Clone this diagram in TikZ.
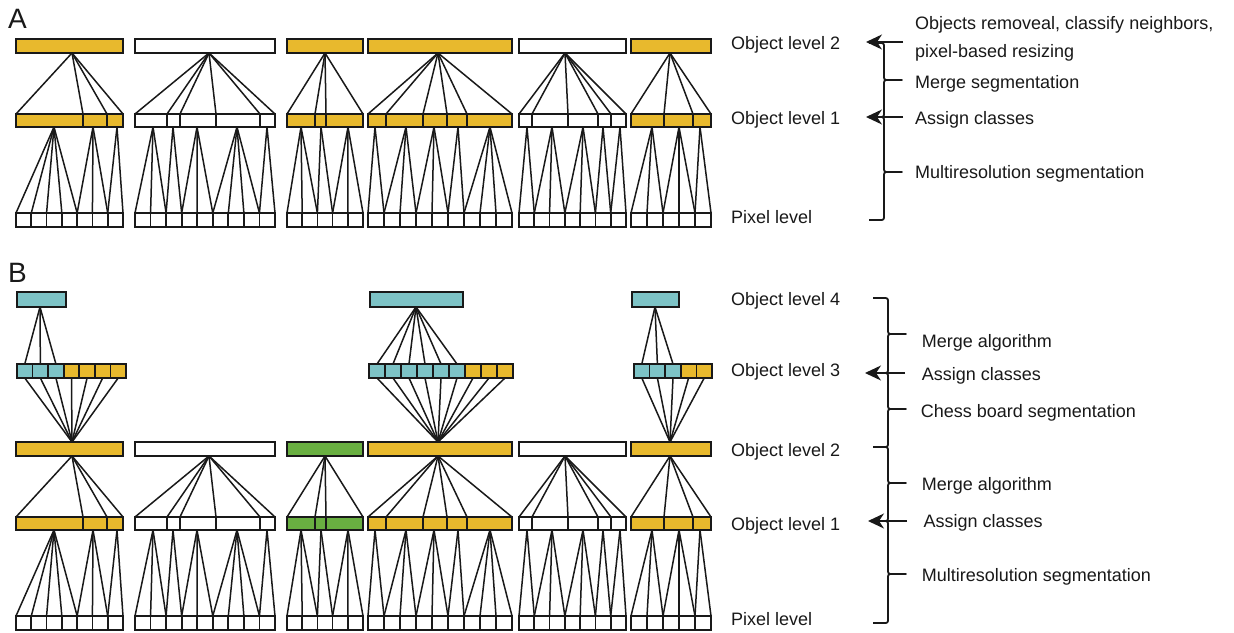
\documentclass[tikz,border=0pt]{standalone}
\usepackage{fontspec}
\setmainfont{Liberation Sans}
\usetikzlibrary{arrows.meta}
\definecolor{gold}{RGB}{232,185,45}
\definecolor{teal2}{RGB}{125,195,198}
\definecolor{grn}{RGB}{105,175,65}
\definecolor{ink}{RGB}{25,25,25}
\tikzset{
 box/.style={draw=ink, line width=1.7pt},
 link/.style={draw=ink, line width=1.5pt},
 lbl/.style={anchor=base west, inner sep=0pt, font=\fontsize{18}{22}\selectfont, text=ink},
 panel/.style={anchor=base west, inner sep=0pt, font=\fontsize{28}{30}\selectfont, text=ink},
 arr/.style={draw=ink, line width=1.8pt, -{Stealth[length=16pt,width=15pt,inset=5pt]}},
 brc/.style={draw=ink, line width=1.8pt, line join=round},
}
% lower tree: #1 y offset, #2 xL, #3 xR, #4 colour, #5 apex x, #6 level-1 bounds, #7 pixels, #8 apex/from/to
\newcommand{\lowertree}[8]{%
 \pgfmathsetmacro{\pw}{(#3-#2)/#7}%
 \foreach \bd in {#6} \draw[link] (#5,{53+#1}) -- (\bd,{114+#1});
 \foreach \ax/\pb/\pc in {#8} {\foreach \kk in {\pb,...,\pc} \draw[link] (\ax,{127+#1}) -- ({#2+\kk*\pw},{213+#1});}
 \draw[box,fill=#4] (#2,{39+#1}) rectangle (#3,{53+#1});
 \draw[box,fill=#4] (#2,{114+#1}) rectangle (#3,{127+#1});
 \foreach \bd in {#6} \draw[box] (\bd,{114+#1}) -- (\bd,{127+#1});
 \foreach \kk in {1,...,#7} \draw[box,fill=white] ({#2+(\kk-1)*\pw},{213+#1}) rectangle ({#2+\kk*\pw},{227+#1});
}
% upper tree: #1 L4 xL, #2 L4 xR, #3 apex, #4 L3 xL, #5 L3 xR, #6 teal count, #7 total, #8 converge x
\newcommand{\uppertree}[8]{%
 \pgfmathsetmacro{\qw}{(#5-#4)/#7}%
 \foreach \kk in {1,...,#6} \draw[link] (#3,307) -- ({#4+(\kk-0.5)*\qw},364);
 \foreach \kk in {1,...,#7} \draw[link] ({#4+(\kk-0.5)*\qw},378) -- (#8,442);
 \draw[box,fill=teal2] (#1,292) rectangle (#2,307);
 \foreach \kk in {1,...,#7} {\ifnum\kk>#6\relax\def\fc{gold}\else\def\fc{teal2}\fi
   \draw[box,fill=\fc] ({#4+(\kk-1)*\qw},364) rectangle ({#4+\kk*\qw},378);}
}
\newcommand{\brc}[4]{%
 \draw[brc] ({#1-15},#2) -- ({#1-5},#2) .. controls (#1,#2) .. (#1,{#2+5}) -- (#1,{#3-5}) .. controls (#1,#3) .. ({#1+5},#3) -- ({#1+18},#3) -- ({#1+5},#3) .. controls (#1,#3) .. (#1,{#3+5}) -- (#1,{#4-5}) .. controls (#1,#4) .. ({#1-5},#4) -- ({#1-15},#4);
}
\begin{document}
\begin{tikzpicture}[x=1pt,y=-1pt]
\useasboundingbox[fill=white] (0,0) rectangle (1234,632);
% ---------- Panel A ----------
\node[panel] (pA) at (8,28) {A};
\lowertree{0}{16}{123}{gold}{72}{16,83,107,123}{7}{54/0/4,93/4/6,117/6/7}
\lowertree{0}{135}{275}{white}{209}{135,167,180,216,260,275}{9}{153/0/2,173/2/3,197/3/5,237/5/8,267/8/9}
\lowertree{0}{287}{363}{gold}{325}{287,315,326,363}{5}{301/0/2,321/2/3,348/3/5}
\lowertree{0}{368}{512}{gold}{438}{368,386,423,447,467,512}{9}{375/0/1,406/1/3,434/3/5,458/5/6,490/6/9}
\lowertree{0}{519}{626}{white}{565}{519,532,568,598,611,626}{7}{527/0/1,552/1/3,583/3/5,603/5/6,620/6/7}
\lowertree{0}{631}{711}{gold}{670}{631,664,693,711}{5}{652/0/2,679/2/4,700/4/5}
\node[lbl] (a2) at (731,49.5) {Object level 2};
\node[lbl] (a1) at (731,124.5) {Object level 1};
\node[lbl] (ap) at (731,223) {Pixel level};
\node[lbl] (aobj1) at (915,29.5) {Objects removeal, classify neighbors,};
\node[lbl] (aobj2) at (915,57) {pixel-based resizing};
\node[lbl] (ams) at (915,88.3) {Merge segmentation};
\node[lbl] (aac) at (915,124) {Assign classes};
\node[lbl] (amr) at (915,178.3) {Multiresolution segmentation};
\coordinate (aA2s) at (903,42); \coordinate (aA2e) at (866,42);
\coordinate (aA1s) at (903,117); \coordinate (aA1e) at (866,117);
\brc{884}{43}{80}{117}
\brc{884}{117}{172}{220}
\draw[arr] (aA2s) -- (aA2e);
\draw[arr] (aA1s) -- (aA1e);
% ---------- Panel B ----------
\node[panel] (pB) at (8,282) {B};
\uppertree{17}{66}{40}{17}{126}{3}{7}{72}
\uppertree{370}{463}{416}{369}{513}{6}{9}{438}
\uppertree{632}{679}{655}{634}{712}{3}{5}{670}
\lowertree{403}{16}{123}{gold}{72}{16,83,107,123}{7}{54/0/4,93/4/6,117/6/7}
\lowertree{403}{135}{275}{white}{209}{135,167,180,216,260,275}{9}{153/0/2,173/2/3,197/3/5,237/5/8,267/8/9}
\lowertree{403}{287}{363}{grn}{325}{287,315,326,363}{5}{301/0/2,321/2/3,348/3/5}
\lowertree{403}{368}{512}{gold}{438}{368,386,423,447,467,512}{9}{375/0/1,406/1/3,434/3/5,458/5/6,490/6/9}
\lowertree{403}{519}{626}{white}{565}{519,532,568,598,611,626}{7}{527/0/1,552/1/3,583/3/5,603/5/6,620/6/7}
\lowertree{403}{631}{711}{gold}{670}{631,664,693,711}{5}{652/0/2,679/2/4,700/4/5}
\node[lbl] (b4) at (731,305.7) {Object level 4};
\node[lbl] (b3) at (731,376.7) {Object level 3};
\node[lbl] (b2) at (731,456.7) {Object level 2};
\node[lbl] (b1) at (731,530.7) {Object level 1};
\node[lbl] (bp) at (731,625) {Pixel level};
\node[lbl] (bm1) at (921.7,347.7) {Merge algorithm};
\node[lbl] (bac1) at (921.7,380) {Assign classes};
\node[lbl] (bcb) at (920.7,417.3) {Chess board segmentation};
\node[lbl] (bm2) at (921.7,490.7) {Merge algorithm};
\node[lbl] (bac2) at (923.3,527.3) {Assign classes};
\node[lbl] (bmr) at (921.7,581.7) {Multiresolution segmentation};
\coordinate (bA3s) at (905,373); \coordinate (bA3e) at (865,373);
\coordinate (bA1s) at (907,521); \coordinate (bA1e) at (868,521);
\brc{888}{298}{334}{373}
\brc{888}{373}{409}{447}
\brc{888}{447}{483}{521}
\brc{888}{521}{574}{623}
\draw[arr] (bA3s) -- (bA3e);
\draw[arr] (bA1s) -- (bA1e);
\end{tikzpicture}
\end{document}
